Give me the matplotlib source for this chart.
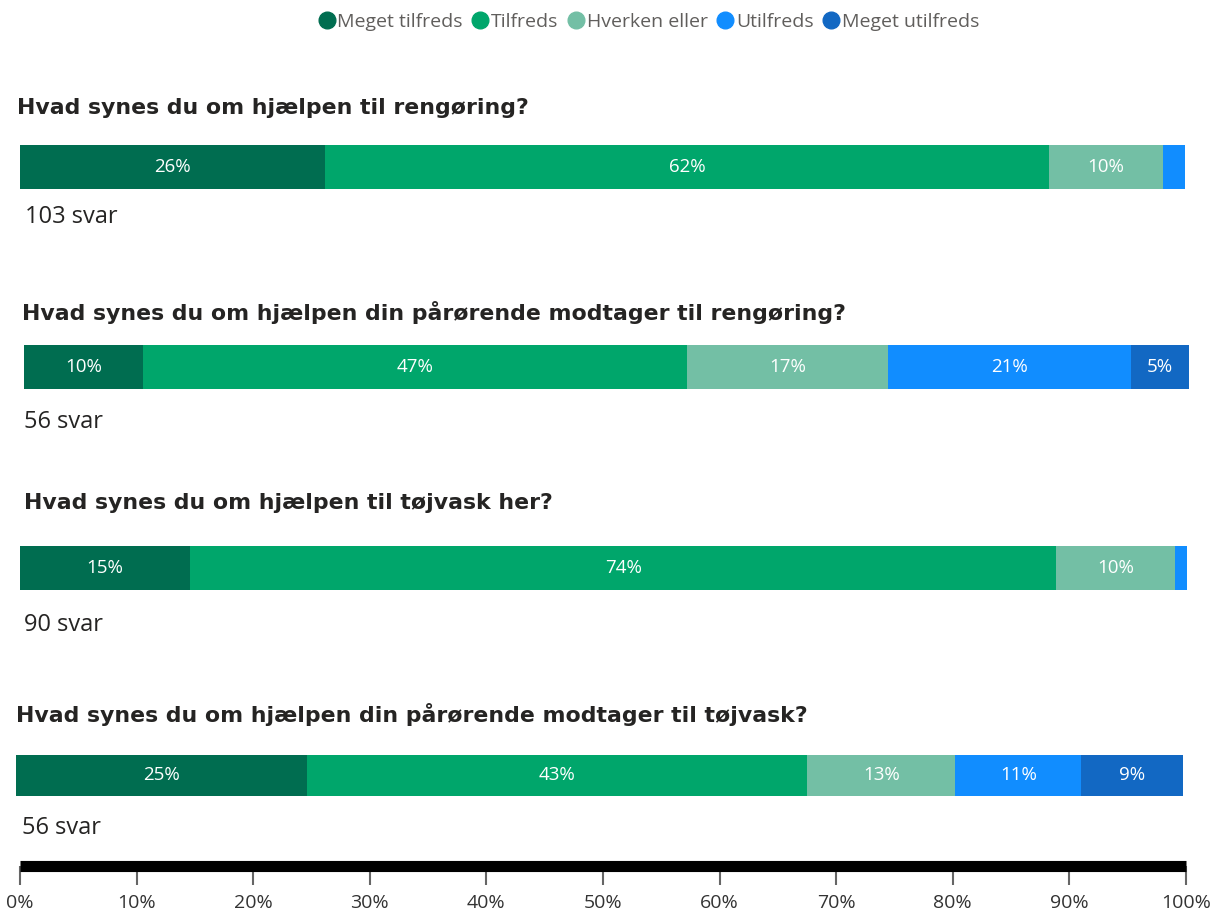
import matplotlib
matplotlib.use("Agg")
import matplotlib.pyplot as plt
from matplotlib.lines import Line2D

W, H = 1214, 917

categories = ["Meget tilfreds", "Tilfreds", "Hverken eller", "Utilfreds", "Meget utilfreds"]
colors = ["#006D50", "#00A66B", "#73BFA5", "#118DFF", "#1268C3"]

questions = [
    "Hvad synes du om hjælpen til rengøring?",
    "Hvad synes du om hjælpen din pårørende modtager til rengøring?",
    "Hvad synes du om hjælpen til tøjvask her?",
    "Hvad synes du om hjælpen din pårørende modtager til tøjvask?",
]
answers = [103, 56, 90, 56]
shares = [
    [26.2, 62.1, 9.8, 1.9, 0.0],
    [10.2, 46.7, 17.3, 20.8, 5.0],
    [14.6, 74.2, 10.2, 1.0, 0.0],
    [24.9, 42.9, 12.7, 10.8, 8.7],
]
ticks = [0, 10, 20, 30, 40, 50, 60, 70, 80, 90, 100]

# pixel layout of each block (bar left, right, top, bottom, title x/y, count x/y)
layout = [
    (20, 1185, 145, 189, 17, 108, 25, 217),
    (24, 1189, 345, 389, 22, 312, 24, 422),
    (20, 1187, 546, 590, 24, 503, 24, 625),
    (16, 1183, 755, 796, 16, 714, 22, 828),
]

plt.rcParams["font.family"] = ["Open Sans", "DejaVu Sans"]
fig = plt.figure(figsize=(W / 100, H / 100), dpi=100)
fig.patch.set_facecolor("white")

def fx(px):
    return px / W

def fy(py):
    return 1 - py / H

for q, n, vals, (x0, x1, y0, y1, tx, ty, cx, cy) in zip(questions, answers, shares, layout):
    ax = fig.add_axes([fx(x0), fy(y1), fx(x1 - x0), (y1 - y0) / H])
    left = 0
    for v, c in zip(vals, colors):
        if v > 0:
            ax.barh(0, v, left=left, height=1, color=c, edgecolor="none")
            if v >= 4:
                ax.text(left + v / 2, 0, f"{v:.0f}%", ha="center", va="center",
                        color="white", fontsize=13.5)
        left += v
    ax.set_xlim(0, left)
    ax.set_ylim(-0.5, 0.5)
    ax.axis("off")
    fig.text(fx(tx), fy(ty), q, ha="left", va="center", fontsize=15.8,
             fontweight="bold", color="#252423", family="DejaVu Sans")
    fig.text(fx(cx), fy(cy), f"{n} svar", ha="left", va="center", fontsize=17,
             color="#252423")

# bottom scale
axs = fig.add_axes([fx(20), fy(866), fx(1186 - 20), 0.001])
axs.set_xlim(0, 100)
axs.set_ylim(0, 1)
for s in ["top", "left", "right"]:
    axs.spines[s].set_visible(False)
axs.spines["bottom"].set_linewidth(8)
axs.spines["bottom"].set_color("black")
axs.spines["bottom"].set_capstyle("butt")
axs.set_yticks([])
axs.set_xticks(ticks)
axs.set_xticklabels([f"{t}%" for t in ticks], fontsize=14, color="#333333")
axs.tick_params(axis="x", length=14, width=1.5, color="#666666", pad=6)

# legend
handles = [Line2D([], [], marker="o", linestyle="none", markersize=12,
                  markerfacecolor=c, markeredgecolor=c) for c in colors]
fig.legend(handles, categories, loc="center", bbox_to_anchor=(fx(648), fy(22)),
           ncol=5, frameon=False, fontsize=14, handletextpad=0.05,
           columnspacing=0.4, handlelength=1.0, labelcolor="#605E5C")

fig.savefig("out.png", dpi=100)
